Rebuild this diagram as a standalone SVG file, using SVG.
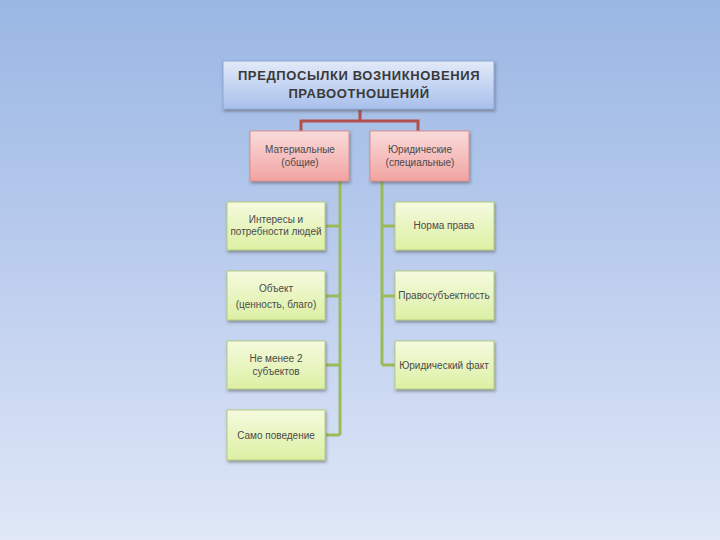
<svg xmlns="http://www.w3.org/2000/svg" width="720" height="540" viewBox="0 0 720 540">
<defs>
<linearGradient id="bg" x1="0" y1="0" x2="0" y2="1"><stop offset="0" stop-color="#99b7e3"/><stop offset="0.5" stop-color="#bccdee"/><stop offset="1" stop-color="#e0e8f7"/></linearGradient>
<linearGradient id="gt" x1="0" y1="0" x2="0" y2="1"><stop offset="0" stop-color="#e2eaf8"/><stop offset="1" stop-color="#a8c0ec"/></linearGradient>
<linearGradient id="gr" x1="0" y1="0" x2="0" y2="1"><stop offset="0" stop-color="#f9dcdb"/><stop offset="1" stop-color="#f1a3a1"/></linearGradient>
<linearGradient id="gg" x1="0" y1="0" x2="0" y2="1"><stop offset="0" stop-color="#f5fadf"/><stop offset="1" stop-color="#dcf0a3"/></linearGradient>
<filter id="sh" x="-10%" y="-10%" width="130%" height="140%"><feDropShadow dx="1" dy="2" stdDeviation="1.5" flood-color="#404040" flood-opacity="0.5"/></filter>
</defs>
<style>
.t{fill:url(#gt);stroke:#8fa8d8;stroke-width:1;filter:url(#sh)}
.r{fill:url(#gr);stroke:#d89090;stroke-width:1;filter:url(#sh)}
.g{fill:url(#gg);stroke:#b5cc80;stroke-width:1;filter:url(#sh)}
text{font-family:"Liberation Sans",Arial,sans-serif;fill:#4a4a4a;text-anchor:middle}
.h{font-size:13px;font-weight:bold;fill:#3a3a3a;letter-spacing:0.6px}
.s{font-size:10px}
.cr{fill:none;stroke:#b2504e;stroke-width:3}
.cg{fill:none;stroke:#9bbb59;stroke-width:3}
</style>
<rect width="720" height="540" fill="url(#bg)"/>
<g id="connectors">
<path class="cr" d="M360 110V121M301 131V121H418V131"/>
<path class="cg" d="M340 181V435M326 226H340M326 296H340M326 365H340M326 435H340"/>
<path class="cg" d="M382 181V365M382 226H395M382 296H395M382 365H395"/>
</g>
<g id="title"><rect class="t" x="223" y="61" width="271" height="48"/><text class="h" x="359" y="80">ПРЕДПОСЫЛКИ ВОЗНИКНОВЕНИЯ</text><text class="h" x="359" y="98">ПРАВООТНОШЕНИЙ</text></g>
<g id="material"><rect class="r" x="250" y="131" width="99" height="50"/><text class="s" x="300" y="153">Материальные</text><text class="s" x="300" y="166">(общие)</text></g>
<g id="legal"><rect class="r" x="370" y="131" width="99" height="50"/><text class="s" x="420" y="153">Юридические</text><text class="s" x="420" y="166">(специальные)</text></g>
<g id="m1"><rect class="g" x="227" y="202" width="98" height="48"/><text class="s" x="276" y="223">Интересы и</text><text class="s" x="276" y="235">потребности людей</text></g>
<g id="m2"><rect class="g" x="227" y="271" width="98" height="49"/><text class="s" x="276" y="292">Объект</text><text class="s" x="276" y="308">(ценность, благо)</text></g>
<g id="m3"><rect class="g" x="227" y="341" width="98" height="48"/><text class="s" x="276" y="362">Не менее 2</text><text class="s" x="276" y="375">субъектов</text></g>
<g id="m4"><rect class="g" x="227" y="410" width="98" height="50"/><text class="s" x="276" y="439">Само поведение</text></g>
<g id="l1"><rect class="g" x="395" y="202" width="99" height="48"/><text class="s" x="444" y="229">Норма права</text></g>
<g id="l2"><rect class="g" x="395" y="271" width="99" height="49"/><text class="s" x="444" y="299">Правосубъектность</text></g>
<g id="l3"><rect class="g" x="395" y="341" width="99" height="48"/><text class="s" x="444" y="369">Юридический факт</text></g>
</svg>
